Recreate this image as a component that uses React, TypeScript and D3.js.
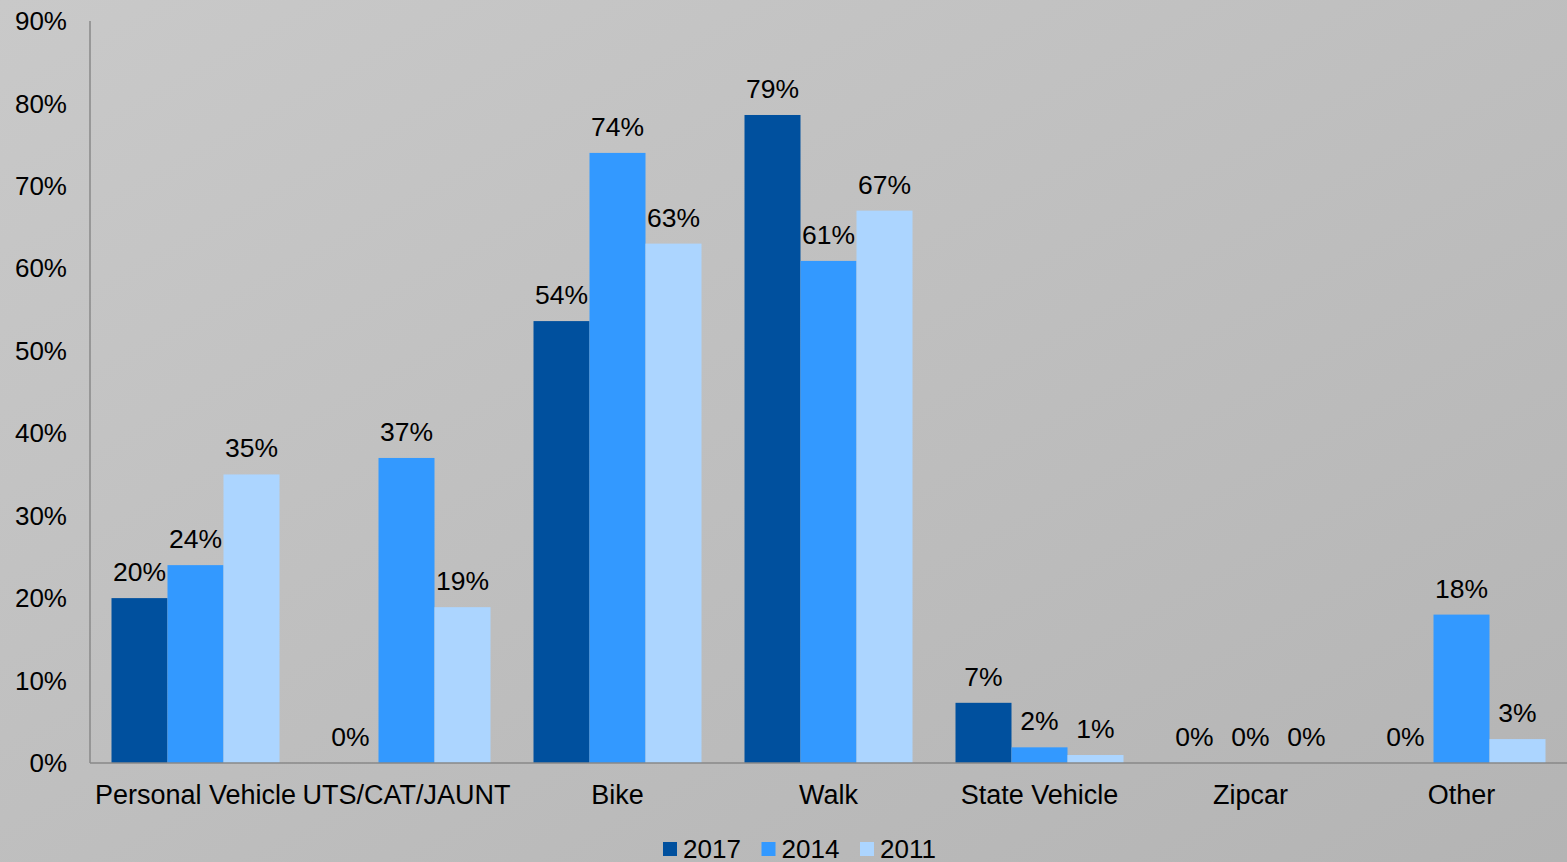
import React from "react";
import * as d3 from "d3";

const categories = ["Personal Vehicle", "UTS/CAT/JAUNT", "Bike", "Walk", "State Vehicle", "Zipcar", "Other"];
const years = ["2017", "2014", "2011"];
const values2017 = [0.20, 0.0, 0.536, 0.786, 0.073, 0.0, 0.0];
const values2014 = [0.24, 0.37, 0.74, 0.609, 0.019, 0.0, 0.18];
const values2011 = [0.35, 0.189, 0.63, 0.67, 0.0097, 0.0, 0.029];
const yTicks = [0, 0.1, 0.2, 0.3, 0.4, 0.5, 0.6, 0.7, 0.8, 0.9];
const colors = ["#00509e", "#3399ff", "#acd5ff"];

const W = 1567;
const H = 862;
const FONT = "'Liberation Sans', Arial, sans-serif";

export default function App() {
  const series = [values2017, values2014, values2011];
  const left = 90, right = 1567, top = 21, bottom = 763;
  const x0 = d3.scaleBand<string>().domain(categories).range([left, right]).paddingInner(0).paddingOuter(0);
  const groupPad = (x0.bandwidth() * 43) / 211 / 2;
  const x1 = d3.scaleBand<string>().domain(years).range([groupPad, x0.bandwidth() - groupPad]).padding(0);
  const y = d3.scaleLinear().domain([0, 0.9]).range([bottom, top]);
  const fmt = (v: number) => `${Math.round(v * 100)}%`;

  return (
    <svg width={W} height={H} style={{ position: "absolute", left: 0, top: 0, display: "block" }} fontFamily={FONT}>
      <defs>
        <linearGradient id="bg" x1="0" y1="0" x2="1" y2="1">
          <stop offset="0" stopColor="#c9c9c9" />
          <stop offset="1" stopColor="#b4b4b4" />
        </linearGradient>
      </defs>
      <rect x={0} y={0} width={W} height={H} fill="url(#bg)" />
      {yTicks.map((t) => (
        <text key={t} x={67} y={y(t)} dy="0.35em" textAnchor="end" fontSize={26} fill="#000">
          {fmt(t)}
        </text>
      ))}
      {categories.map((c, i) => (
        <g key={c} transform={`translate(${x0(c)},0)`}>
          {years.map((yr, s) => {
            const v = series[s][i];
            const bx = x1(yr)!;
            const bw = x1.bandwidth();
            return (
              <g key={yr}>
                <rect x={bx} y={y(v)} width={bw} height={bottom - y(v)} fill={colors[s]} />
                <text x={bx + bw / 2} y={y(v) - 17} textAnchor="middle" fontSize={26.5} fill="#000">
                  {fmt(v)}
                </text>
              </g>
            );
          })}
          <text x={x0.bandwidth() / 2} y={804} textAnchor="middle" fontSize={27} fill="#000">
            {c}
          </text>
        </g>
      ))}
      <line x1={left} x2={left} y1={top} y2={bottom} stroke="#888" strokeWidth={1.5} />
      <line x1={left} x2={right} y1={bottom} y2={bottom} stroke="#888" strokeWidth={1.5} />
      {years.map((yr, s) => {
        const lx = 663 + s * 98.5;
        return (
          <g key={yr}>
            <rect x={lx} y={842} width={14} height={14} fill={colors[s]} />
            <text x={lx + 20} y={857.5} fontSize={26} fill="#000">
              {yr}
            </text>
          </g>
        );
      })}
    </svg>
  );
}
